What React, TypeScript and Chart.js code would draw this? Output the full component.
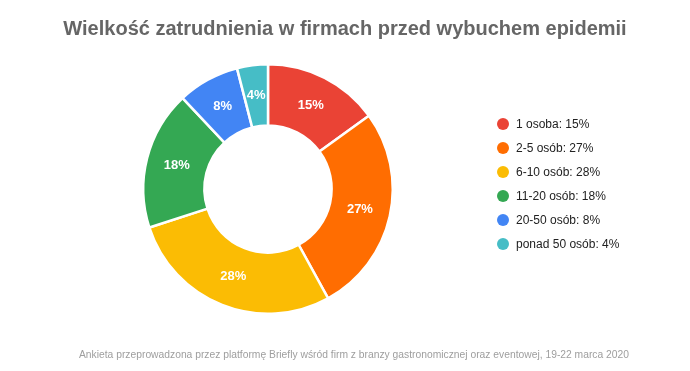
import React, { useEffect, useRef } from "react";
import { Chart, registerables } from "chart.js";
Chart.register(...registerables);

const TITLE = "Wielkość zatrudnienia w firmach przed wybuchem epidemii";
const FOOTER = "Ankieta przeprowadzona przez platformę Briefly wśród firm z branzy gastronomicznej oraz eventowej, 19-22 marca 2020";
const categories = ["1 osoba", "2-5 osób", "6-10 osób", "11-20 osób", "20-50 osób", "ponad 50 osób"];
const values = [15, 27, 28, 18, 8, 4];
const colors = ["#ea4335", "#ff6d01", "#fbbc04", "#34a853", "#4285f4", "#46bdc6"];

const FONT = "Arial, 'Liberation Sans', sans-serif";

const extras = {
  id: "extras",
  afterDatasetsDraw(chart: any) {
    const ctx = chart.ctx;
    const meta = chart.getDatasetMeta(0);
    ctx.save();
    // slice labels
    ctx.fillStyle = "#ffffff";
    ctx.font = `bold 13px ${FONT}`;
    ctx.textAlign = "center";
    ctx.textBaseline = "middle";
    meta.data.forEach((arc: any, i: number) => {
      const p = arc.tooltipPosition();
      ctx.fillText(values[i] + "%", p.x, p.y);
    });
    // title
    ctx.fillStyle = "#666666";
    ctx.font = `bold 20px ${FONT}`;
    ctx.fillText(TITLE, 345, 29);
    // footer
    ctx.fillStyle = "#9e9e9e";
    ctx.font = `10.3px ${FONT}`;
    ctx.fillText(FOOTER, 354, 355);
    // legend
    ctx.textAlign = "left";
    ctx.font = `12px ${FONT}`;
    categories.forEach((c, i) => {
      const y = 124 + i * 24;
      ctx.fillStyle = colors[i];
      ctx.beginPath();
      ctx.arc(503, y, 6, 0, Math.PI * 2);
      ctx.fill();
      ctx.fillStyle = "#222222";
      ctx.fillText(`${c}: ${values[i]}%`, 516, y + 1);
    });
    ctx.restore();
  },
};

export default function App() {
  const ref = useRef<HTMLCanvasElement>(null);
  useEffect(() => {
    document.body.style.margin = "0";
    const chart = new Chart(ref.current!, {
      type: "doughnut",
      data: {
        labels: categories,
        datasets: [
          {
            data: values,
            backgroundColor: colors,
            borderColor: "#ffffff",
            borderWidth: 2.5,
          },
        ],
      },
      options: {
        animation: false,
        responsive: false,
        cutout: "51%",
        layout: { padding: { left: 142, right: 296, top: 63, bottom: 56 } },
        plugins: { legend: { display: false }, tooltip: { enabled: false }, title: { display: false } },
      },
      plugins: [extras],
    });
    return () => chart.destroy();
  }, []);
  return <canvas ref={ref} width={690} height={371} style={{ display: "block" }} />;
}
